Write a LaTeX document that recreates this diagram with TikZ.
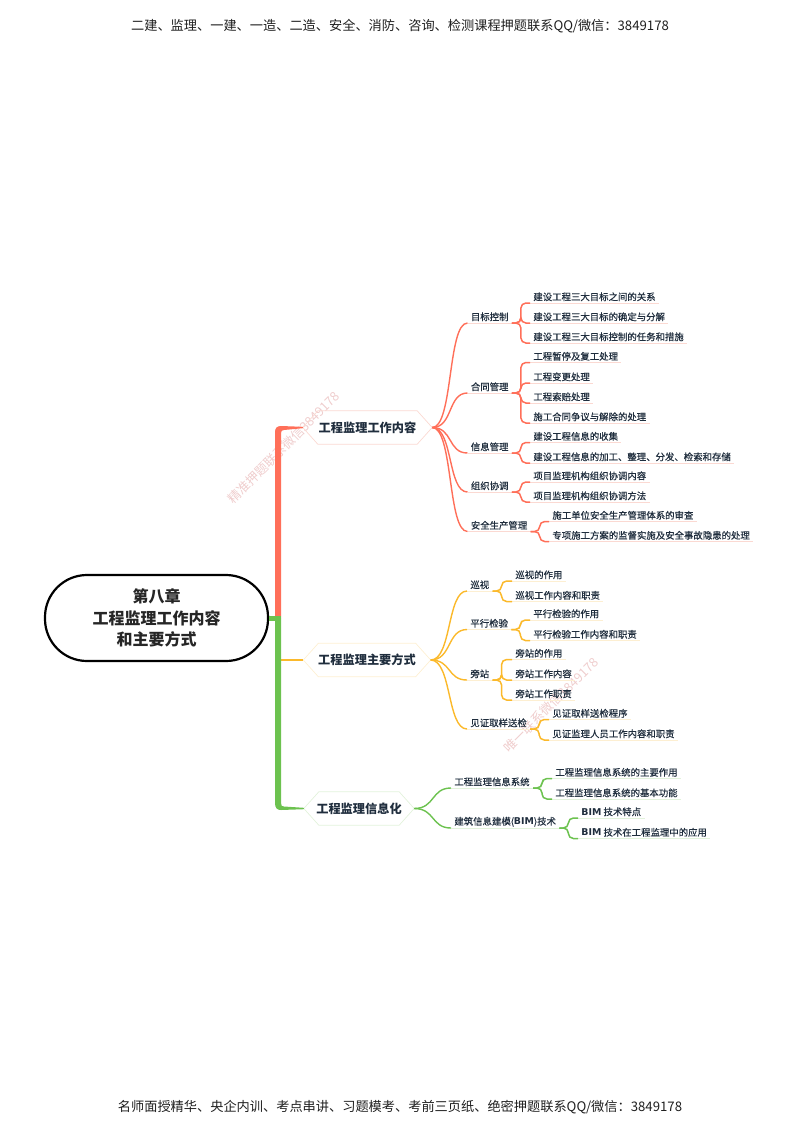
\documentclass[tikz,border=0pt]{standalone}
\usepackage{fontspec}
\setmainfont{Noto Sans CJK SC}
\newfontfamily\leaffont[FakeBold=0.5]{Noto Sans CJK SC}
\newfontfamily\wmfont{Noto Sans CJK SC}
\newfontfamily\latfont{DejaVu Sans}
\usetikzlibrary{shapes.misc}
\definecolor{cred}{HTML}{FF6F59}
\definecolor{corange}{HTML}{FBB92B}
\definecolor{cgreen}{HTML}{6CC24F}
\definecolor{tred}{HTML}{FBD9D2}
\definecolor{torange}{HTML}{FDEFD2}
\definecolor{tgreen}{HTML}{E2F2DB}
\definecolor{navy}{HTML}{1F2D3D}
\definecolor{wmcol}{HTML}{EFCDCD}
\tikzset{
  x=1pt,y=-1pt,
  rootbox/.style={draw=black,line width=2.2pt,rounded corners=42pt,minimum width=223pt,minimum height=86pt,inner sep=0pt,align=center,font=\fontsize{16}{21.5}\selectfont\bfseries,text=black!85},
  hexbox/.style={minimum height=33pt,inner sep=0pt,font=\fontsize{12.2}{14}\selectfont\bfseries,text=navy},
  hexline/.style={line width=.7pt,line join=round},
  tbox/.style={anchor=south west,inner ysep=0pt,inner xsep=3.2pt,minimum height=12pt,text=navy,font=\leaffont\fontsize{9.4}{11}\selectfont},
  curveline/.style={line width=1.4pt},
  bracket/.style={line width=1.5pt,rounded corners=5pt},
  wm/.style={font=\wmfont\fontsize{12.8}{13}\selectfont,text=wmcol,rotate=45,inner sep=0pt},
  pagetext/.style={font=\fontsize{13.2}{15}\selectfont,text=black!88,inner sep=0pt}
}
\newcommand{\lf}[5]{\node[tbox] (#2) at (#3,#4) {#5}; \draw[#1,line width=.5pt] (#2.south west) -- (#2.south east);}
\newcommand{\cv}[3]{\draw[curveline,#1] (#2.east) .. controls +(21,0) and +(-20,0) .. (#3.south west);}
\newcommand{\br}[3]{\draw[bracket,#1] (#2.south east) -- ([xshift=9pt]#2.south east) |- (#3.south west);}
\newcommand{\hx}[2]{\draw[hexline,#1] (#2.west) -- ([xshift=15pt]#2.north west) -- ([xshift=-15pt]#2.north east) -- (#2.east) -- ([xshift=-15pt]#2.south east) -- ([xshift=15pt]#2.south west) -- cycle;}
\newcommand{\bim}{{\latfont\bfseries BIM}}
\begin{document}
\begin{tikzpicture}
\useasboundingbox (0,0) rectangle (800,1130);
\node[pagetext] (hd) at (400,26) {二建、监理、一建、一造、二造、安全、消防、咨询、检测课程押题联系QQ/微信：3849178};
\node[pagetext] (ft) at (400,1107) {名师面授精华、央企内训、考点串讲、习题模考、考前三页纸、绝密押题联系QQ/微信：3849178};
\node[wm] (wa) at (283.5,447.5) {精准押题联系微信3849178};
\node[wm] (wb) at (551,705) {唯一联系微信3849178};

\node[rootbox] (root) at (156.5,618) {第八章\\工程监理工作内容\\和主要方式};
\node[hexbox,minimum width=129pt] (A) at (367.5,427.5) {工程监理工作内容};
\node[hexbox,minimum width=127pt] (B) at (367,660) {工程监理主要方式};
\node[hexbox,minimum width=110pt] (C) at (359,808.5) {工程监理信息化};
\hx{tred}{A}\hx{torange}{B}\hx{tgreen}{C}

% spine
\draw[corange,line width=1.8pt] (281,660) -- (B.west);
\fill[cred] (275,618) -- (275,432) .. controls (275,428) and (277,426) .. (281,426) -- ([yshift=.7pt]A.west) -- ([yshift=-.7pt]A.west) -- (284,430) .. controls (282,430) and (281,431) .. (281,433) -- (281,618) -- cycle;
\fill[cgreen] (275,618) -- (275,803) .. controls (275,808) and (277,810) .. (281,810) -- ([yshift=-.7pt]C.west) -- ([yshift=.7pt]C.west) -- (284,806.5) .. controls (282,806.5) and (281,806) .. (281,803) -- (281,618) -- cycle;
\draw[cgreen,line width=5pt] (root.east) -- (281,618);

% red
\lf{tred}{a1}{467.5}{323}{目标控制}
\lf{tred}{a2}{467.5}{393}{合同管理}
\lf{tred}{a3}{467.5}{453}{信息管理}
\lf{tred}{a4}{467.5}{492}{组织协调}
\lf{tred}{a5}{467.5}{531.5}{安全生产管理}
\foreach \n in {a1,a2,a3,a4,a5} {\cv{cred}{A}{\n}}
\lf{tred}{a11}{530}{303}{建设工程三大目标之间的关系}
\lf{tred}{a12}{530}{323}{建设工程三大目标的确定与分解}
\lf{tred}{a13}{530}{343}{建设工程三大目标控制的任务和措施}
\lf{tred}{a21}{530}{362.5}{工程暂停及复工处理}
\lf{tred}{a22}{530}{383}{工程变更处理}
\lf{tred}{a23}{530}{403}{工程索赔处理}
\lf{tred}{a24}{530}{423}{施工合同争议与解除的处理}
\lf{tred}{a31}{530}{442.5}{建设工程信息的收集}
\lf{tred}{a32}{530}{463}{建设工程信息的加工、整理、分发、检索和存储}
\lf{tred}{a41}{530}{482}{项目监理机构组织协调内容}
\lf{tred}{a42}{530}{502}{项目监理机构组织协调方法}
\lf{tred}{a51}{549}{521.5}{施工单位安全生产管理体系的审查}
\lf{tred}{a52}{549}{541.5}{专项施工方案的监督实施及安全事故隐患的处理}
\br{cred}{a1}{a11}\br{cred}{a1}{a12}\br{cred}{a1}{a13}
\br{cred}{a2}{a21}\br{cred}{a2}{a22}\br{cred}{a2}{a23}\br{cred}{a2}{a24}
\br{cred}{a3}{a31}\br{cred}{a3}{a32}
\br{cred}{a4}{a41}\br{cred}{a4}{a42}
\br{cred}{a5}{a51}\br{cred}{a5}{a52}

% orange
\lf{torange}{b1}{467}{591}{巡视}
\lf{torange}{b2}{467}{629.5}{平行检验}
\lf{torange}{b3}{467}{680}{旁站}
\lf{torange}{b4}{467}{729}{见证取样送检}
\foreach \n in {b1,b2,b3,b4} {\cv{corange}{B}{\n}}
\lf{torange}{b11}{512}{581}{巡视的作用}
\lf{torange}{b12}{512}{601.5}{巡视工作内容和职责}
\lf{torange}{b21}{530}{620}{平行检验的作用}
\lf{torange}{b22}{530}{640.5}{平行检验工作内容和职责}
\lf{torange}{b31}{512}{659.5}{旁站的作用}
\lf{torange}{b32}{512}{680}{旁站工作内容}
\lf{torange}{b33}{512}{700}{旁站工作职责}
\lf{torange}{b41}{549}{719.5}{见证取样送检程序}
\lf{torange}{b42}{549}{740}{见证监理人员工作内容和职责}
\br{corange}{b1}{b11}\br{corange}{b1}{b12}
\br{corange}{b2}{b21}\br{corange}{b2}{b22}
\br{corange}{b3}{b31}\br{corange}{b3}{b32}\br{corange}{b3}{b33}
\br{corange}{b4}{b41}\br{corange}{b4}{b42}

% green
\lf{tgreen}{c1}{451}{788}{工程监理信息系统}
\lf{tgreen}{c2}{451}{828}{建筑信息建模(\bim)技术}
\foreach \n in {c1,c2} {\cv{cgreen}{C}{\n}}
\lf{tgreen}{c11}{552}{778.5}{工程监理信息系统的主要作用}
\lf{tgreen}{c12}{552}{799}{工程监理信息系统的基本功能}
\lf{tgreen}{c21}{578}{818}{\bim\ 技术特点}
\lf{tgreen}{c22}{578}{838.5}{\bim\ 技术在工程监理中的应用}
\br{cgreen}{c1}{c11}\br{cgreen}{c1}{c12}
\br{cgreen}{c2}{c21}\br{cgreen}{c2}{c22}
\end{tikzpicture}
\end{document}
